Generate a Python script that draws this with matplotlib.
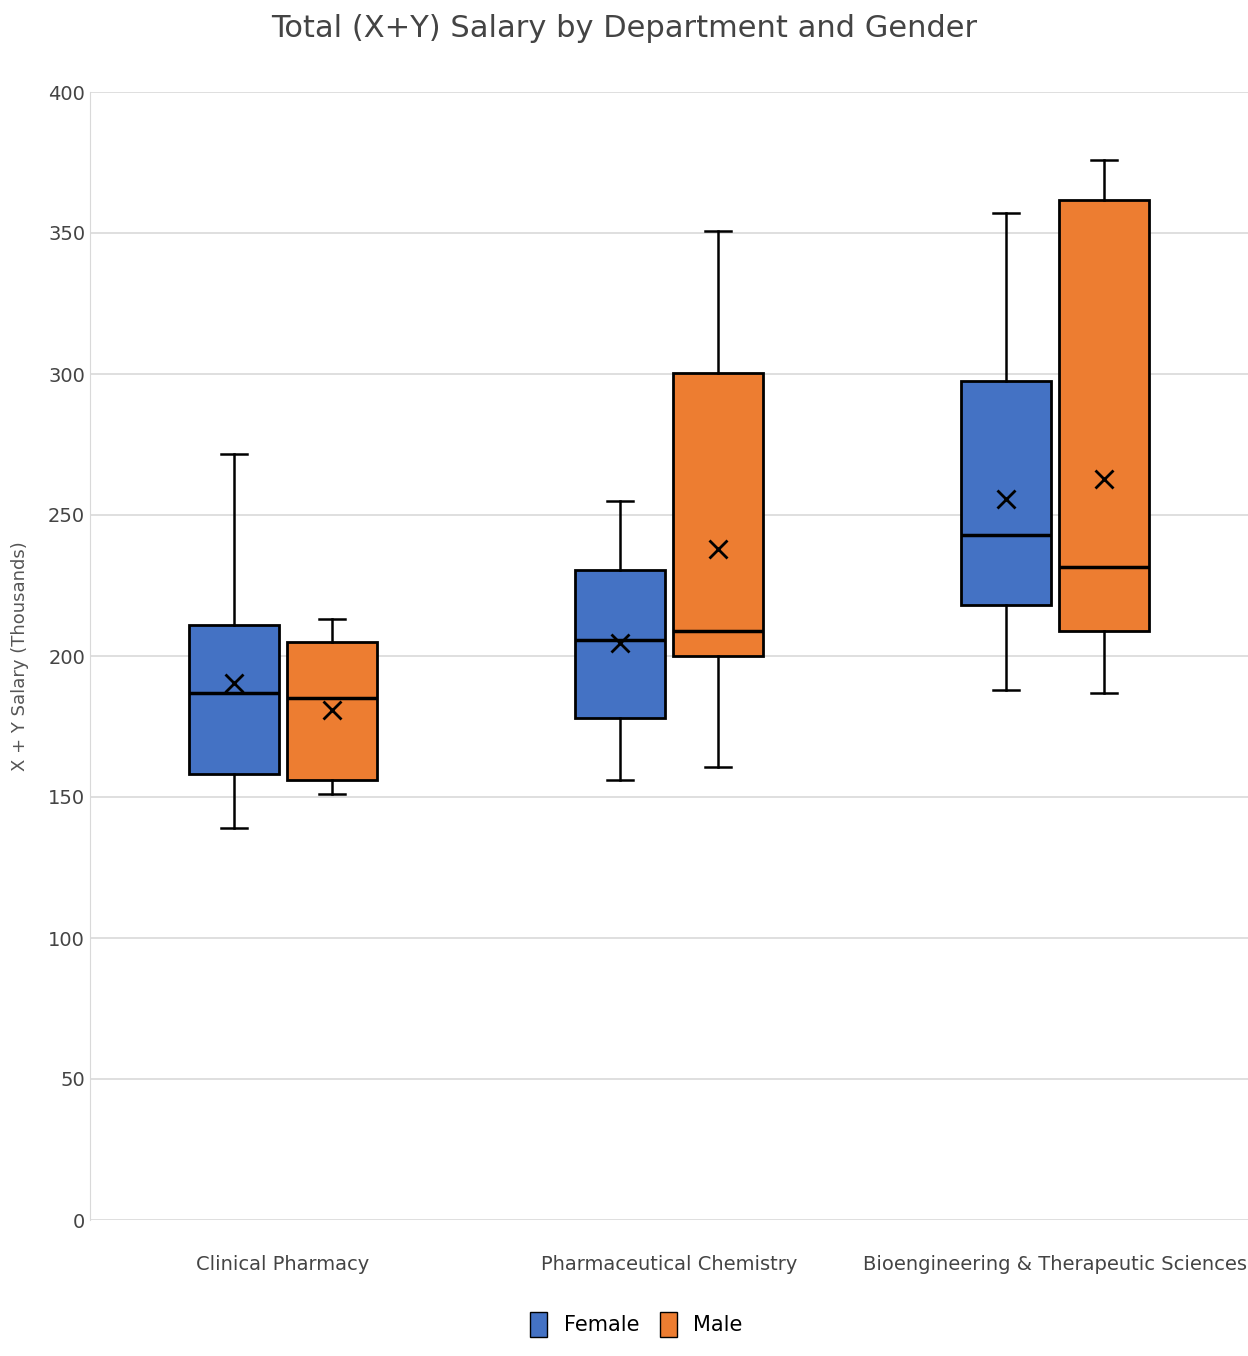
import matplotlib
matplotlib.use("Agg")
import matplotlib.pyplot as plt
from matplotlib.patches import Patch

departments = ["Clinical Pharmacy", "Pharmaceutical Chemistry", "Bioengineering & Therapeutic Sciences"]
genders = ["Female", "Male"]
colors = ["#4472C4", "#ED7D31"]
# per department: [female, male] stats
whislo = [[139, 151], [156, 160.6], [188, 187]]
q1 = [[158, 156], [178, 200], [218, 209]]
med = [[187, 185], [205.7, 209], [243, 231.6]]
mean = [[190.4, 181], [204.6, 238], [255.7, 262.8]]
q3 = [[211, 205], [230.5, 300.4], [297.5, 361.7]]
whishi = [[271.6, 213], [255, 350.7], [357, 376]]

fig = plt.figure(figsize=(12.48, 13.56), dpi=100)
ax = fig.add_axes([90/1248, 136/1356, 1158/1248, 1128/1356])

offsets = [-0.127, 0.127]
for g in range(2):
    stats = []
    pos = []
    for d in range(3):
        stats.append(dict(whislo=whislo[d][g], q1=q1[d][g], med=med[d][g], mean=mean[d][g],
                          q3=q3[d][g], whishi=whishi[d][g], fliers=[]))
        pos.append(d + offsets[g])
    ax.bxp(stats, positions=pos, widths=0.233, patch_artist=True, showmeans=True,
           boxprops=dict(facecolor=colors[g], edgecolor="black", linewidth=2),
           medianprops=dict(color="black", linewidth=2.5),
           whiskerprops=dict(color="black", linewidth=1.8),
           capprops=dict(color="black", linewidth=1.8), capwidths=0.065,
           meanprops=dict(marker="x", markeredgecolor="black", markersize=13, markeredgewidth=2))

ax.set_xlim(-0.5, 2.5)
ax.set_ylim(0, 400)
ax.set_xticks(range(3))
ax.set_xticklabels(departments, fontsize=14, color="#444444")
ax.set_yticks(range(0, 401, 50))
ax.tick_params(axis="y", labelsize=14, colors="#444444", length=0)
ax.tick_params(axis="x", length=0, pad=25)
ax.grid(axis="y", color="#d9d9d9", linewidth=1.2)
ax.set_axisbelow(True)
for s in ["top", "right", "bottom"]:
    ax.spines[s].set_visible(False)
ax.spines["left"].set_color("#d9d9d9")
ax.set_ylabel("X + Y Salary (Thousands)", fontsize=13, color="#555555", labelpad=14)
fig.suptitle("Total (X+Y) Salary by Department and Gender", fontsize=22, color="#444444", y=0.99)
handles = [Patch(facecolor=colors[i], edgecolor="black", label=genders[i]) for i in range(2)]
fig.legend(handles=handles, loc="lower center", bbox_to_anchor=(0.51, 0.0), ncol=2, frameon=False,
           fontsize=15, handlelength=0.8, handleheight=1.5, columnspacing=1.0)
fig.savefig("out.png", dpi=100)
